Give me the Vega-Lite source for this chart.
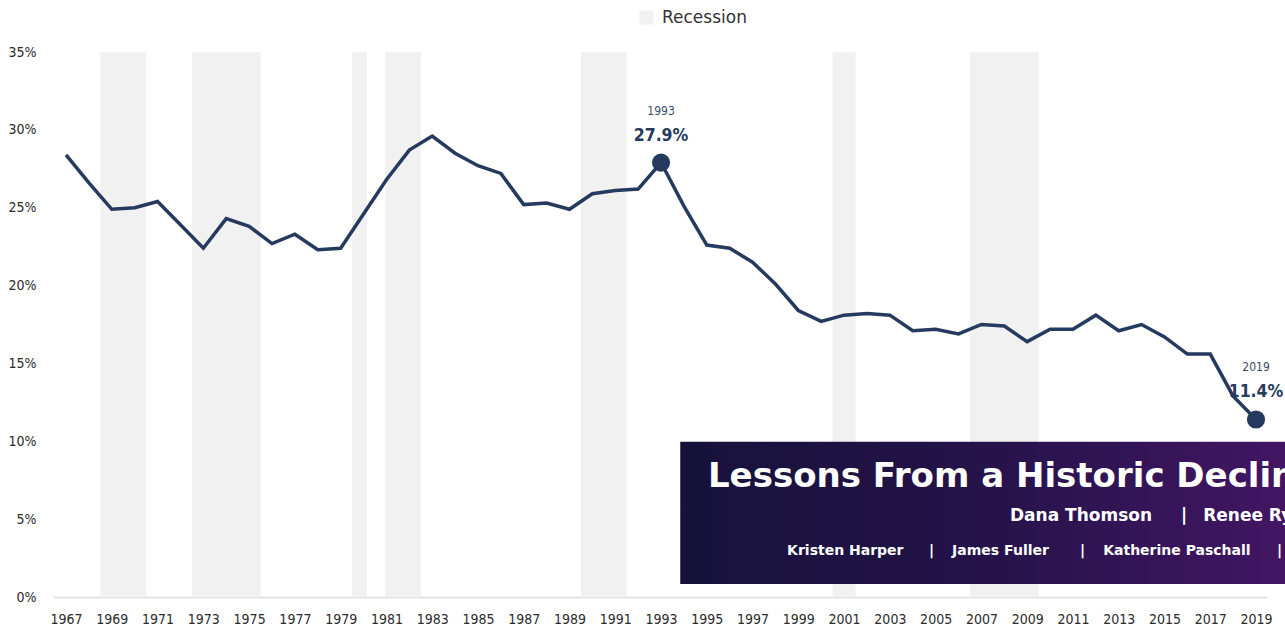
{
  "$schema": "https://vega.github.io/schema/vega-lite/v6.json",
  "width": 1214,
  "height": 545,
  "autosize": {"type": "none"},
  "padding": {"left": 53, "top": 52, "right": 18, "bottom": 34},
  "background": "#ffffff",
  "config": {
    "view": {"stroke": null},
    "axis": {"grid": false, "ticks": false, "title": null}
  },
  "datasets": {
    "series": [
      {"year": 1967, "rate": 28.4}, {"year": 1968, "rate": 26.6}, {"year": 1969, "rate": 24.9},
      {"year": 1970, "rate": 25.0}, {"year": 1971, "rate": 25.4}, {"year": 1972, "rate": 23.9},
      {"year": 1973, "rate": 22.4}, {"year": 1974, "rate": 24.3}, {"year": 1975, "rate": 23.8},
      {"year": 1976, "rate": 22.7}, {"year": 1977, "rate": 23.3}, {"year": 1978, "rate": 22.3},
      {"year": 1979, "rate": 22.4}, {"year": 1980, "rate": 24.6}, {"year": 1981, "rate": 26.8},
      {"year": 1982, "rate": 28.7}, {"year": 1983, "rate": 29.6}, {"year": 1984, "rate": 28.5},
      {"year": 1985, "rate": 27.7}, {"year": 1986, "rate": 27.2}, {"year": 1987, "rate": 25.2},
      {"year": 1988, "rate": 25.3}, {"year": 1989, "rate": 24.9}, {"year": 1990, "rate": 25.9},
      {"year": 1991, "rate": 26.1}, {"year": 1992, "rate": 26.2}, {"year": 1993, "rate": 27.9},
      {"year": 1994, "rate": 25.1}, {"year": 1995, "rate": 22.6}, {"year": 1996, "rate": 22.4},
      {"year": 1997, "rate": 21.5}, {"year": 1998, "rate": 20.1}, {"year": 1999, "rate": 18.4},
      {"year": 2000, "rate": 17.7}, {"year": 2001, "rate": 18.1}, {"year": 2002, "rate": 18.2},
      {"year": 2003, "rate": 18.1}, {"year": 2004, "rate": 17.1}, {"year": 2005, "rate": 17.2},
      {"year": 2006, "rate": 16.9}, {"year": 2007, "rate": 17.5}, {"year": 2008, "rate": 17.4},
      {"year": 2009, "rate": 16.4}, {"year": 2010, "rate": 17.2}, {"year": 2011, "rate": 17.2},
      {"year": 2012, "rate": 18.1}, {"year": 2013, "rate": 17.1}, {"year": 2014, "rate": 17.5},
      {"year": 2015, "rate": 16.7}, {"year": 2016, "rate": 15.6}, {"year": 2017, "rate": 15.6},
      {"year": 2018, "rate": 12.9}, {"year": 2019, "rate": 11.4}
    ],
    "recessions": [
      {"start": 1968.5, "end": 1970.5}, {"start": 1972.5, "end": 1975.5},
      {"start": 1979.5, "end": 1980.15}, {"start": 1980.95, "end": 1982.5},
      {"start": 1989.5, "end": 1991.5}, {"start": 2000.5, "end": 2001.5},
      {"start": 2006.5, "end": 2009.5}
    ],
    "highlights": [
      {"year": 1993, "rate": 27.9, "label": "27.9%", "yearLabel": "1993", "side": "mid"},
      {"year": 2019, "rate": 11.4, "label": "11.4%", "yearLabel": "2019", "side": "end"}
    ],
    "banner": [{"x1": 1993.84, "x2": 2022, "y1": 0.84, "y2": 9.97}],
    "bannerTitle": [{"x": 1995.05, "y": 7.05, "text": "Lessons From a Historic Decline"}],
    "bannerLine2": [
      {"x": 2008.25, "y": 4.85, "text": "Dana Thomson"},
      {"x": 2015.72, "y": 4.85, "text": "|"},
      {"x": 2016.69, "y": 4.85, "text": "Renee Ryberg"}
    ],
    "bannerLine3": [
      {"x": 1998.51, "y": 2.7, "text": "Kristen Harper"},
      {"x": 2004.71, "y": 2.7, "text": "|"},
      {"x": 2005.72, "y": 2.7, "text": "James Fuller"},
      {"x": 2011.31, "y": 2.7, "text": "|"},
      {"x": 2012.32, "y": 2.7, "text": "Katherine Paschall"},
      {"x": 2019.92, "y": 2.7, "text": "|"},
      {"x": 2020.92, "y": 2.7, "text": "Jody Franklin"}
    ]
  },
  "layer": [
    {
      "data": {"name": "recessions"},
      "mark": {"type": "rect", "opacity": 1},
      "encoding": {
        "x": {
          "field": "start", "type": "quantitative",
          "scale": {"domain": [1966.43, 2019.48], "nice": false, "zero": false},
          "axis": {
            "values": [1967, 1969, 1971, 1973, 1975, 1977, 1979, 1981, 1983, 1985, 1987, 1989, 1991, 1993, 1995, 1997, 1999, 2001, 2003, 2005, 2007, 2009, 2011, 2013, 2015, 2017, 2019],
            "format": "d",
            "labelFont": "Liberation Sans Narrow, DejaVu Sans Condensed, Roboto, sans-serif",
            "labelFontSize": 14,
            "labelColor": "#2b2b2b",
            "labelPadding": 15,
            "labelBaseline": "top",
            "labelOverlap": false,
            "labelFlush": false,
            "domainColor": "#e3e3e3",
            "domainWidth": 2
          }
        },
        "x2": {"field": "end"},
        "y": {
          "datum": 0, "type": "quantitative",
          "scale": {"domain": [0, 35], "nice": false},
          "axis": {
            "values": [0, 5, 10, 15, 20, 25, 30, 35],
            "labelExpr": "datum.value + '%'",
            "labelFont": "Liberation Sans Narrow, DejaVu Sans Condensed, Roboto, sans-serif",
            "labelFontSize": 14,
            "labelColor": "#2b2b2b",
            "labelPadding": 17,
            "domain": false
          }
        },
        "y2": {"datum": 35},
        "color": {
          "datum": "Recession",
          "type": "nominal",
          "scale": {"range": ["#f1f1f1"]},
          "legend": {
            "orient": "none",
            "legendX": 585,
            "legendY": -43,
            "title": null,
            "padding": 0,
            "symbolType": "square",
            "symbolSize": 196,
            "symbolStrokeWidth": 0,
            "labelFont": "DejaVu Sans",
            "labelFontSize": 17,
            "labelColor": "#333333",
            "labelOffset": 7
          }
        }
      }
    },
    {
      "data": {"name": "series"},
      "mark": {"type": "line", "color": "#253a5e", "strokeWidth": 3.5, "strokeJoin": "miter"},
      "encoding": {
        "x": {"field": "year", "type": "quantitative"},
        "y": {"field": "rate", "type": "quantitative"}
      }
    },
    {
      "data": {"name": "highlights"},
      "mark": {"type": "point", "filled": true, "color": "#253a5e", "size": 330, "opacity": 1},
      "encoding": {
        "x": {"field": "year", "type": "quantitative"},
        "y": {"field": "rate", "type": "quantitative"}
      }
    },
    {
      "data": {"name": "highlights"},
      "mark": {"type": "text", "font": "Liberation Sans Narrow, DejaVu Sans Condensed, Roboto, sans-serif", "fontWeight": "bold", "fontSize": 17.5, "color": "#253a5e", "dy": -22, "baseline": "alphabetic", "align": "center"},
      "encoding": {
        "x": {"field": "year", "type": "quantitative"},
        "y": {"field": "rate", "type": "quantitative"},
        "text": {"field": "label"},
        "xOffset": {"field": "side", "type": "nominal", "scale": {"domain": ["mid", "end"], "range": [2, 2.5]}, "legend": null}
      }
    },
    {
      "data": {"name": "highlights"},
      "mark": {"type": "text", "font": "Liberation Sans Narrow, DejaVu Sans Condensed, Roboto, sans-serif", "fontSize": 12, "color": "#3c4a6a", "dy": -48, "baseline": "alphabetic", "align": "center"},
      "encoding": {
        "x": {"field": "year", "type": "quantitative"},
        "y": {"field": "rate", "type": "quantitative"},
        "text": {"field": "yearLabel"},
        "xOffset": {"field": "side", "type": "nominal", "scale": {"domain": ["mid", "end"], "range": [2, 7]}, "legend": null}
      }
    },
    {
      "data": {"name": "banner"},
      "mark": {
        "type": "rect",
        "color": {
          "gradient": "linear", "x1": 0, "y1": 0.5, "x2": 1, "y2": 0.5,
          "stops": [
            {"offset": 0, "color": "#16123a"},
            {"offset": 0.45, "color": "#241349"},
            {"offset": 1, "color": "#461667"}
          ]
        }
      },
      "encoding": {
        "x": {"field": "x1", "type": "quantitative"},
        "x2": {"field": "x2"},
        "y": {"field": "y1", "type": "quantitative"},
        "y2": {"field": "y2"}
      }
    },
    {
      "data": {"name": "bannerTitle"},
      "mark": {"type": "text", "font": "DejaVu Sans", "fontWeight": "bold", "fontSize": 34, "color": "#ffffff", "align": "left", "baseline": "alphabetic"},
      "encoding": {
        "x": {"field": "x", "type": "quantitative"},
        "y": {"field": "y", "type": "quantitative"},
        "text": {"field": "text"}
      }
    },
    {
      "data": {"name": "bannerLine2"},
      "mark": {"type": "text", "font": "DejaVu Sans", "fontWeight": "bold", "fontSize": 17, "color": "#ffffff", "align": "left", "baseline": "alphabetic"},
      "encoding": {
        "x": {"field": "x", "type": "quantitative"},
        "y": {"field": "y", "type": "quantitative"},
        "text": {"field": "text"}
      }
    },
    {
      "data": {"name": "bannerLine3"},
      "mark": {"type": "text", "font": "DejaVu Sans", "fontWeight": "bold", "fontSize": 14, "color": "#ffffff", "align": "left", "baseline": "alphabetic"},
      "encoding": {
        "x": {"field": "x", "type": "quantitative"},
        "y": {"field": "y", "type": "quantitative"},
        "text": {"field": "text"}
      }
    }
  ]
}
